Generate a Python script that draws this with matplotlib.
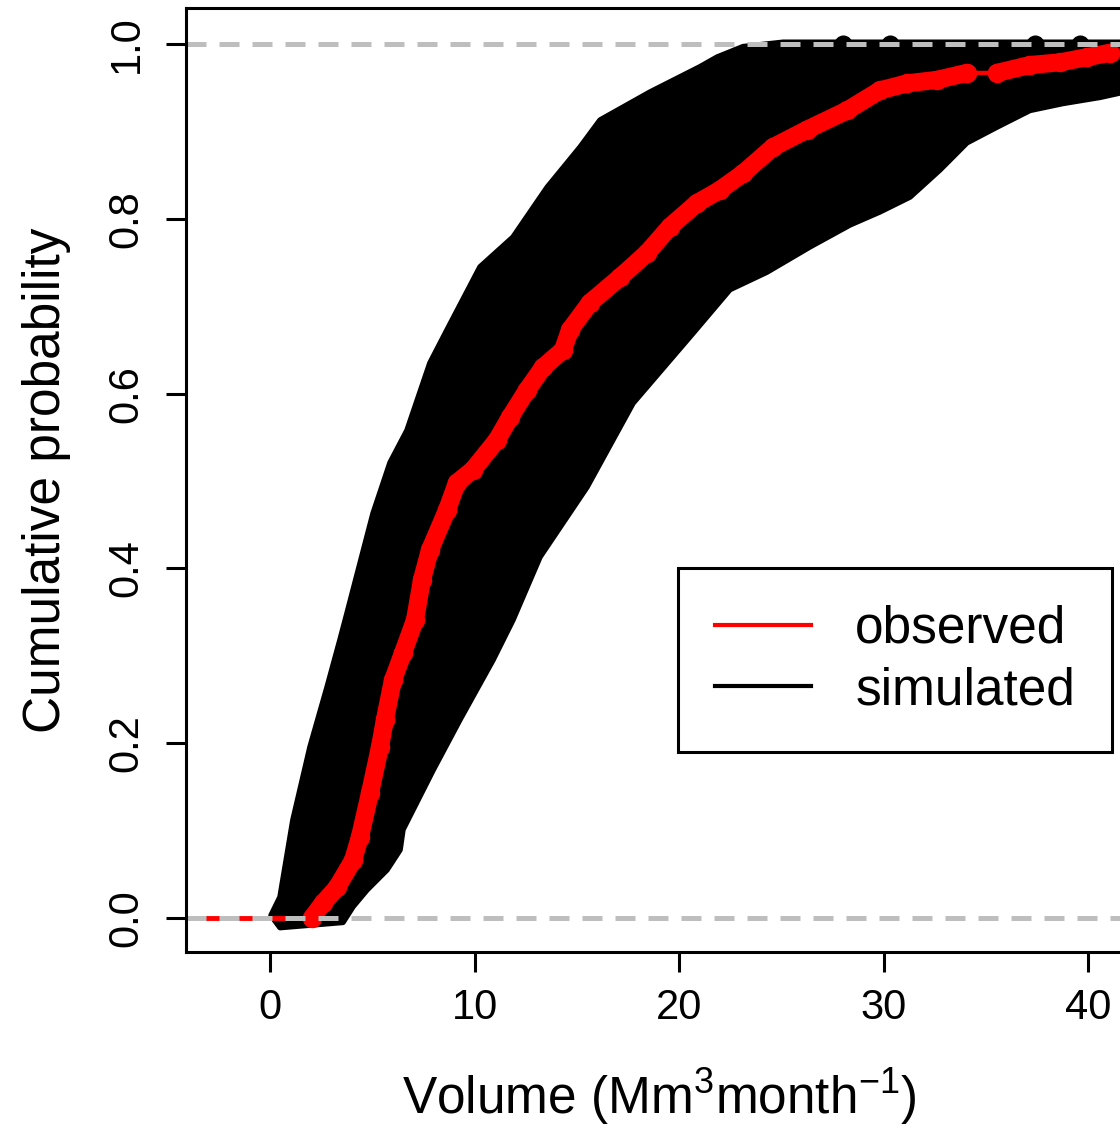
import matplotlib
matplotlib.use('Agg')
import matplotlib.pyplot as plt
from matplotlib.lines import Line2D
import numpy as np

plt.rcParams['font.family'] = ['Liberation Sans', 'DejaVu Sans']
plt.rcParams['mathtext.fontset'] = 'custom'
plt.rcParams['mathtext.rm'] = 'Liberation Sans'
plt.rcParams['mathtext.default'] = 'regular'

# Observed ECDF (volume, cumulative probability)
obs_x = [2.05, 2.59, 3.28, 4.06, 4.40, 4.89, 5.38, 5.62, 6.01, 6.50, 7.09, 7.43,
         7.82, 8.66, 9.14, 9.93, 11.10, 11.74, 12.57, 13.35, 14.33, 14.67, 15.65,
         17.11, 18.44, 19.56, 20.88, 22.00, 23.13, 24.60, 26.26, 28.22, 29.83,
         31.15, 32.62, 34.08, 35.55, 37.16, 38.63, 39.95, 41.08]
obs_y = [0.000, 0.017, 0.035, 0.066, 0.093, 0.143, 0.196, 0.227, 0.272, 0.303,
         0.341, 0.387, 0.421, 0.467, 0.498, 0.513, 0.547, 0.573, 0.604, 0.630,
         0.650, 0.673, 0.704, 0.733, 0.761, 0.791, 0.818, 0.833, 0.852, 0.882,
         0.902, 0.924, 0.947, 0.955, 0.959, 0.967, 0.967, 0.976, 0.979, 0.985,
         0.990]

# Envelope of the simulated ECDFs: left (upper) edge, bottom to top
sim_left_x = [0.49, 0.05, 0.49, 1.12, 1.96, 2.79, 3.42, 3.77, 5.04, 5.87, 6.70,
              7.82, 8.66, 10.27, 11.88, 13.55, 15.16, 16.14, 18.58, 21.03, 21.86,
              23.13, 25.09, 43.0]
sim_left_y = [-0.011, 0.003, 0.024, 0.112, 0.196, 0.264, 0.318, 0.349, 0.463,
              0.521, 0.558, 0.635, 0.673, 0.745, 0.779, 0.836, 0.882, 0.913,
              0.945, 0.974, 0.985, 0.997, 1.002, 1.002]
# right (lower) edge, bottom to top
sim_right_x = [3.57, 4.06, 4.74, 5.72, 6.36, 6.50, 7.97, 9.29, 10.90, 11.88, 13.20,
               15.50, 17.75, 20.68, 22.49, 24.30, 26.41, 28.36, 29.83, 31.30,
               32.76, 34.08, 35.55, 37.16, 38.78, 40.59, 41.56, 43.0]
sim_right_y = [-0.005, 0.013, 0.032, 0.055, 0.078, 0.101, 0.169, 0.227, 0.295,
               0.341, 0.413, 0.493, 0.589, 0.669, 0.719, 0.739, 0.768, 0.793,
               0.808, 0.825, 0.856, 0.887, 0.905, 0.924, 0.932, 0.939, 0.944,
               0.947]
# simulated maxima reaching probability 1 (visible bumps on top)
sim_top_x = [28.0, 30.3, 37.4, 39.6]

x_ticks = [0, 10, 20, 30, 40]
y_ticks = [0.0, 0.2, 0.4, 0.6, 0.8, 1.0]
y_ticklabels = ['0.0', '0.2', '0.4', '0.6', '0.8', '1.0']

fig = plt.figure(figsize=(11.2, 11.28), dpi=100)
ax = fig.add_axes([186 / 1120, 1 - 952 / 1128, 946 / 1120, 944 / 1128])
xlim = (-4.107, 42.15)
ax.set_xlim(*xlim)
ax.set_ylim(-0.0389, 1.0412)

# simulated band
poly_x = np.r_[sim_left_x, sim_right_x[::-1]]
poly_y = np.r_[sim_left_y, sim_right_y[::-1]]
ax.fill(poly_x, poly_y, facecolor='black', edgecolor='black', lw=4,
        joinstyle='round', zorder=2)
ax.plot(sim_top_x, np.ones(len(sim_top_x)), 'o', color='black', ms=12, zorder=2)

# observed
ox = np.array(obs_x)
oy = np.array(obs_y)
ax.plot([xlim[0], ox[0]], [oy[0], oy[0]], color='red', lw=3.5, zorder=3)
ax.plot(ox, oy, color='red', lw=3, zorder=3)
for i in range(len(ox) - 1):
    if oy[i + 1] - oy[i] > 0.002:
        ax.plot(ox[i:i + 2], oy[i:i + 2], color='red', lw=13,
                solid_capstyle='round', solid_joinstyle='round', zorder=3)
ax.plot(ox, oy, 'o', color='red', ms=13, zorder=3)

# reference lines
for h in (0, 1):
    ax.axhline(h, color='#bebebe', lw=3.6, ls=(0, (4, 2.6)), zorder=5)

ax.set_xticks(x_ticks)
ax.set_yticks(y_ticks)
ax.set_yticklabels(y_ticklabels, rotation=90, va='center')
ax.tick_params(axis='both', direction='out', length=14.4, width=2.2,
               labelsize=30, colors='black')
ax.tick_params(axis='x', pad=11.5)
ax.tick_params(axis='y', pad=14)
for s in ax.spines.values():
    s.set_linewidth(2.2)
    s.set_zorder(6)

ax.set_xlabel('Volume (Mm$^{3}$month$^{-1}$)', fontsize=37)
ax.xaxis.set_label_coords(0.5, -0.1716)
ax.xaxis.label.set_va('baseline')
ax.set_ylabel('Cumulative probability', fontsize=37)
ax.yaxis.label.set_rotation_mode('anchor')
ax.yaxis.label.set_va('baseline')
ax.yaxis.label.set_ha('center')
ax.yaxis.set_label_coords(-0.1332, 0.5)

handles = [Line2D([], [], color='red', lw=3), Line2D([], [], color='black', lw=3)]
leg = ax.legend(handles, ['observed', 'simulated'], loc='upper left',
                bbox_to_anchor=(0.5201, 0.4068), borderaxespad=0, fontsize=37,
                frameon=True, fancybox=False, edgecolor='black', framealpha=1,
                handlelength=1.87, handletextpad=0.86, borderpad=0.72,
                labelspacing=0.24)
leg.get_frame().set_linewidth(2.2)
leg.set_zorder(7)

fig.savefig('out.png', dpi=100)
